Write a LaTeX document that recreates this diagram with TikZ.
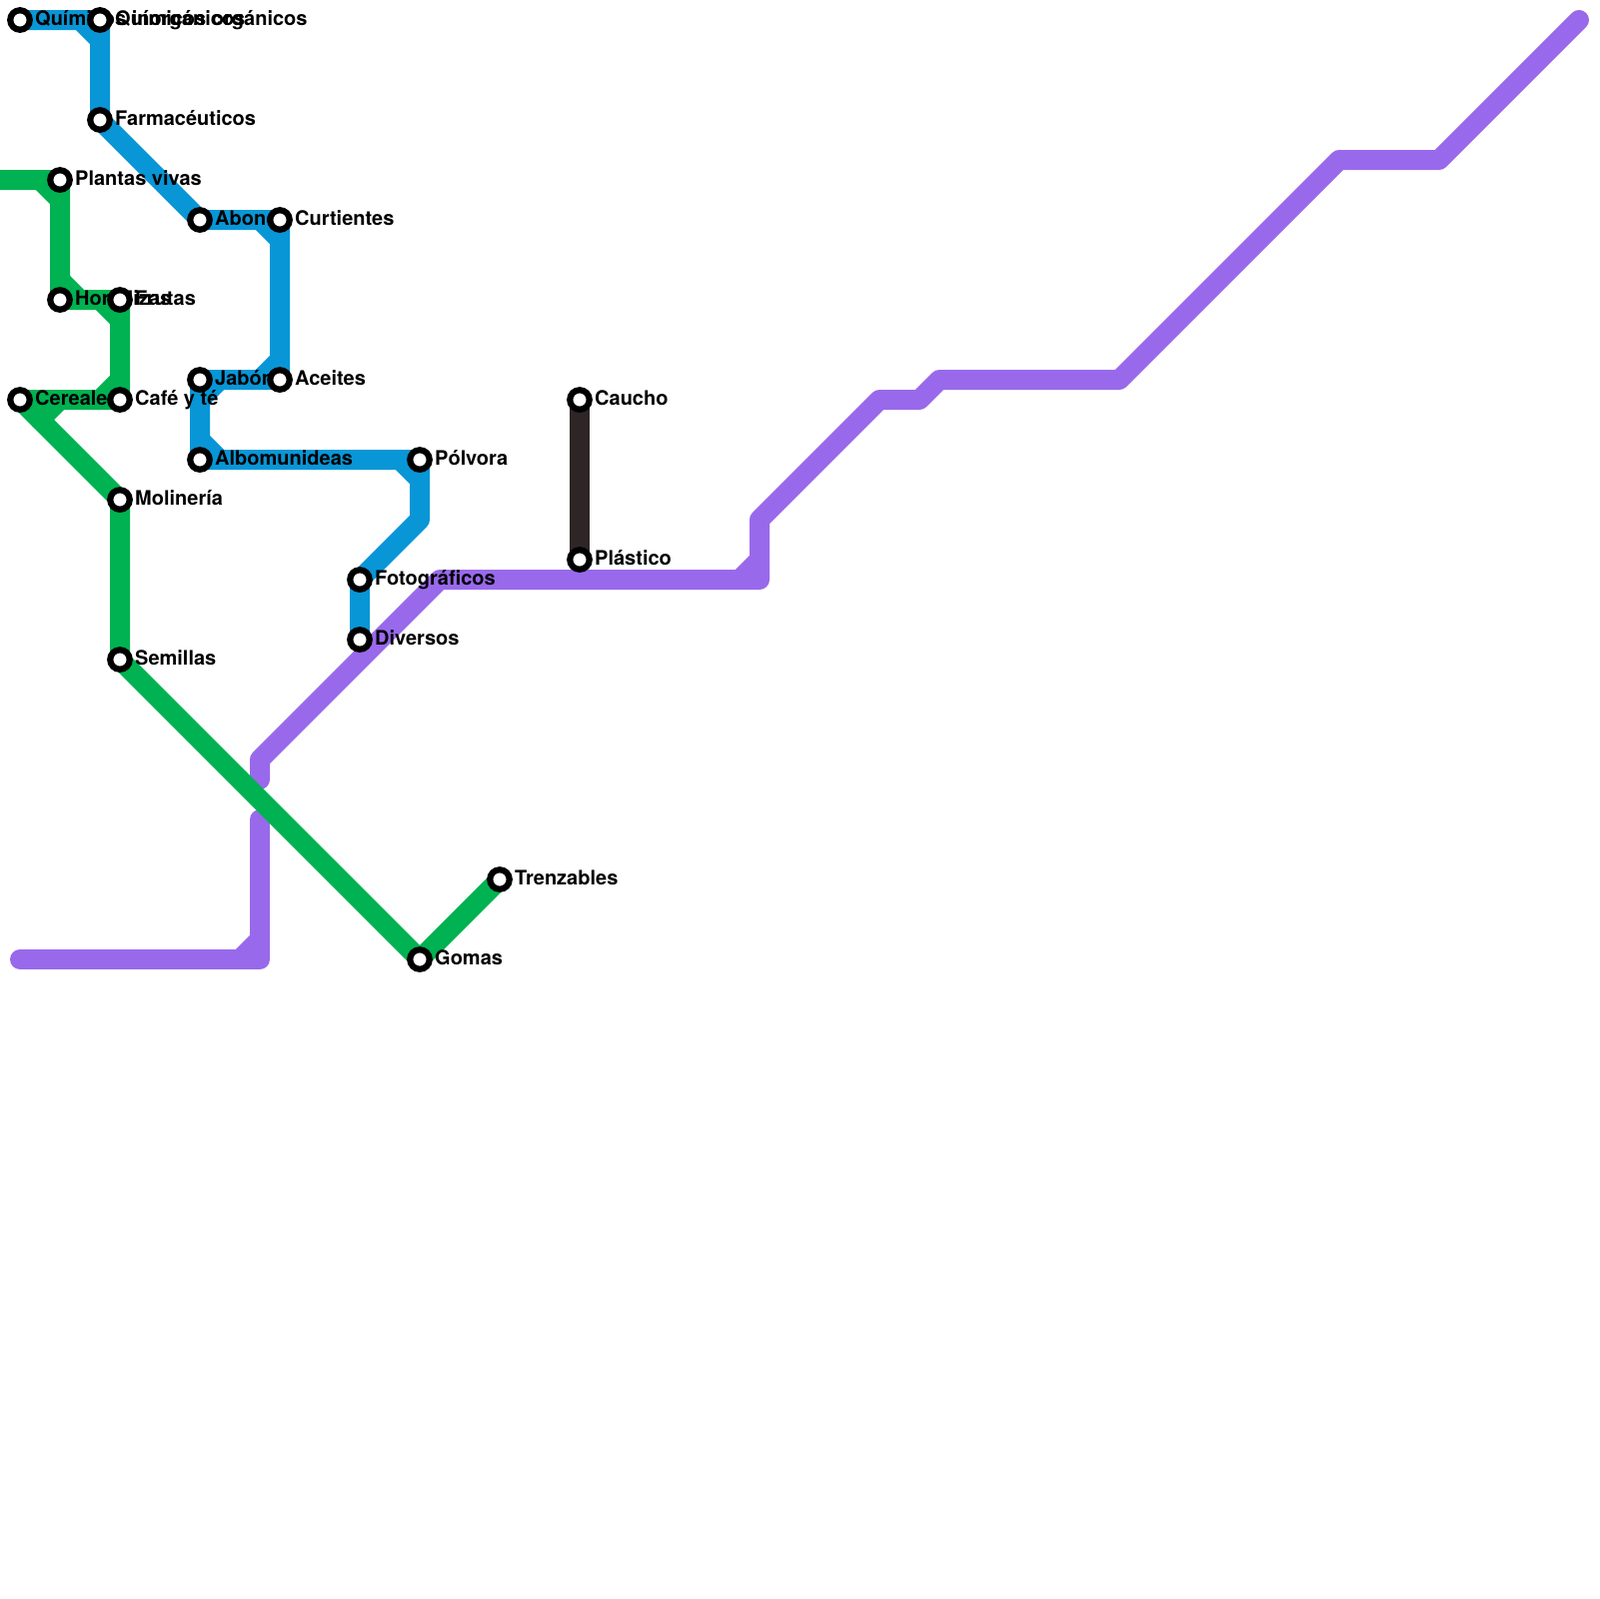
\documentclass[tikz,border=0pt]{standalone}
\usepackage{fontspec}
\setmainfont{TeX Gyre Heros}
\usetikzlibrary{backgrounds}

\definecolor{lineblue}{HTML}{0896D7}
\definecolor{linegreen}{HTML}{00B251}
\definecolor{linepurple}{HTML}{9969EB}
\definecolor{lineblack}{HTML}{2E2626}

\begin{document}
\begin{tikzpicture}[
  x=0.1mm, y=-0.1mm,
  stn/.style={circle, draw=black, fill=white, line width=0.62mm, minimum size=1.95mm,
              inner sep=0pt, outer sep=0pt},
  lbl/.style={anchor=base west, inner sep=0pt, font=\fontsize{5.69pt}{6.8pt}\selectfont\bfseries, text=black},
  track/.style={line width=2mm, line join=round, line cap=round},
  tblue/.style={track, color=lineblue},
  tgreen/.style={track, color=linegreen},
  tpurple/.style={track, color=linepurple},
  tblack/.style={track, color=lineblack}
]

  \useasboundingbox (0,0) rectangle (1600,1600);

  % Stations
  \foreach \name/\px/\py in {qin/20/20, qor/100/20, far/100/120, abo/200/220, cur/280/220,
      ace/280/380, jab/200/380, alb/200/460, pol/420/460, fot/360/580, div/360/640,
      pla/60/180, hor/60/300, fru/120/300, caf/120/400, cer/20/400, mol/120/500,
      sem/120/660, gom/420/960, tre/500/880, cau/580/400, pls/580/560}
    \node[stn] (\name) at (\px,\py) {};

  % Free bends of the lines
  \coordinate (gstart) at (0,180);
  \coordinate (bbend) at (420,520);
  \coordinate (pstart) at (20,960);
  \coordinate (pa) at (260,960);
  \coordinate (pb) at (260,820);
  \coordinate (pc) at (260,780);
  \coordinate (pd) at (260,760);
  \coordinate (pe) at (440,580);
  \coordinate (pf) at (760,580);
  \coordinate (pg) at (760,520);
  \coordinate (ph) at (880,400);
  \coordinate (pi) at (920,400);
  \coordinate (pj) at (940,380);
  \coordinate (pk) at (1120,380);
  \coordinate (pl) at (1340,160);
  \coordinate (pm) at (1440,160);
  \coordinate (pn) at (1580,20);

  \begin{scope}[on background layer]
    % Blue line
    \draw[tblue] (qin.center) -- (qor.center) -- (far.center) -- (abo.center) -- (cur.center) -- (ace.center)
      -- (jab.center) -- (alb.center) -- (pol.center) -- (bbend) -- (fot.center) -- (div.center);
    \foreach \c/\ax/\ay/\bx/\by in {qor/-20/0/0/20, cur/-20/0/0/20, ace/0/-20/-20/0,
        jab/20/0/0/20, alb/0/-20/20/0, pol/-20/0/0/20}
      \draw[tblue] ([shift={(\ax,\ay)}]\c.center) -- ([shift={(\bx,\by)}]\c.center);

    % Purple line
    \draw[tpurple] (pstart) -- (pa) -- (pb);
    \draw[tpurple] (pc) -- (pd) -- (pe) -- (pf) -- (pg) -- (ph) -- (pi) -- (pj) -- (pk) -- (pl) -- (pm) -- (pn);
    \foreach \c/\ax/\ay/\bx/\by in {pa/-20/0/0/-20, pf/-20/0/0/-20}
      \draw[tpurple] ([shift={(\ax,\ay)}]\c) -- ([shift={(\bx,\by)}]\c);

    % Green line
    \draw[tgreen] (gstart) -- (pla.center) -- (hor.center) -- (fru.center) -- (caf.center) -- (cer.center)
      -- (mol.center) -- (sem.center) -- (gom.center) -- (tre.center);
    \foreach \c/\ax/\ay/\bx/\by in {pla/-20/0/0/20, hor/0/-20/20/0, fru/-20/0/0/20,
        caf/0/-20/-20/0, cer/40/0/20/20}
      \draw[tgreen] ([shift={(\ax,\ay)}]\c.center) -- ([shift={(\bx,\by)}]\c.center);

    % Black line
    \draw[tblack] (cau.center) -- (pls.center);

    % Labels
    \foreach \name/\txt in {qin/Químicos inorgánicos, qor/Químicos orgánicos, far/Farmacéuticos,
        abo/Abonos, cur/Curtientes, ace/Aceites, jab/Jabón, alb/Albomunideas, pol/Pólvora,
        fot/Fotográficos, div/Diversos, pla/Plantas vivas, hor/Hortalizas, fru/Frutas,
        caf/Café y té, cer/Cereales, mol/Molinería, sem/Semillas, gom/Gomas, tre/Trenzables,
        cau/Caucho, pls/Plástico}
      \node[lbl] (l\name) at ([shift={(14.5,5)}]\name.center) {\txt};
  \end{scope}

\end{tikzpicture}
\end{document}
